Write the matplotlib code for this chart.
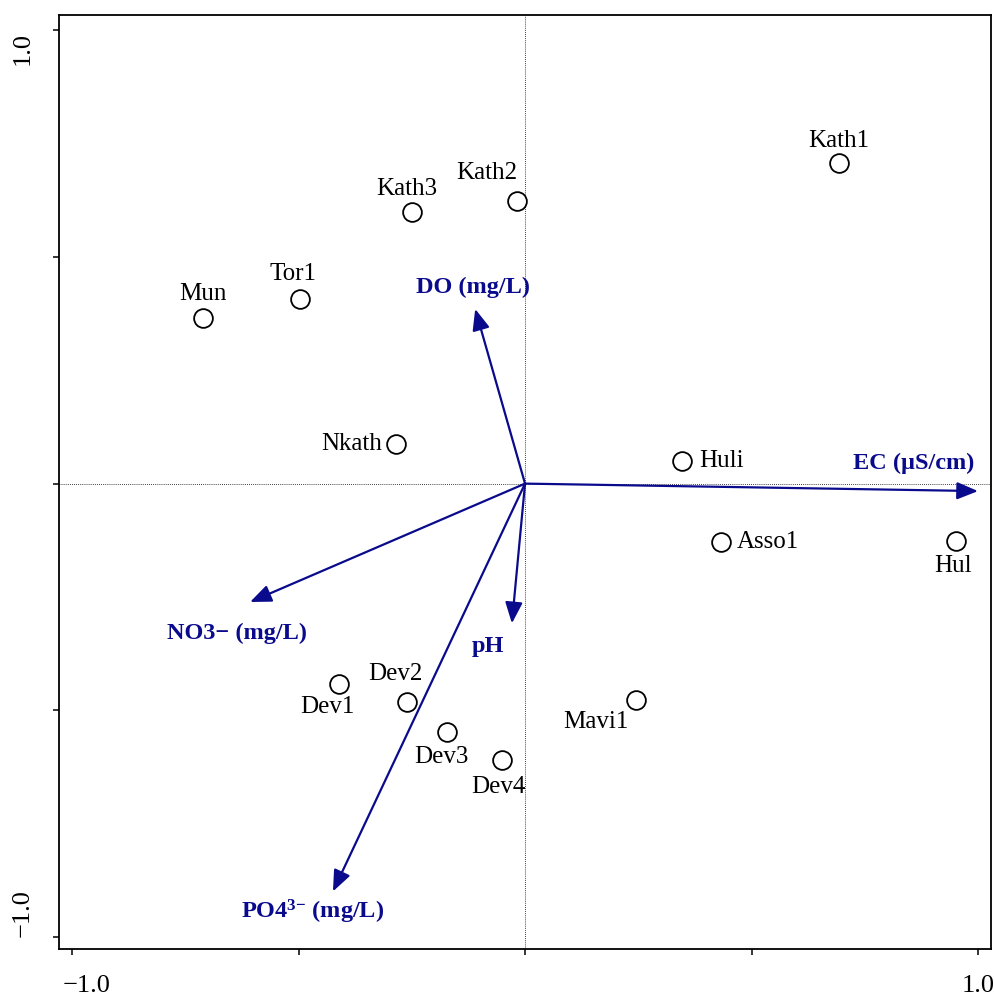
import matplotlib.pyplot as plt
from matplotlib.transforms import ScaledTranslation

plt.rcParams["font.family"] = ["Liberation Serif", "DejaVu Serif"]
plt.rcParams["mathtext.fontset"] = "custom"
plt.rcParams["mathtext.rm"] = "Liberation Serif"
plt.rcParams["mathtext.bf"] = "Liberation Serif:bold"
plt.rcParams["mathtext.it"] = "Liberation Serif:italic"

# sites (RDA scores)
sites = ["Kath1", "Kath2", "Kath3", "Tor1", "Mun", "Nkath", "Huli", "Asso1",
         "Hul", "Mavi1", "Dev1", "Dev2", "Dev3", "Dev4"]
site_x = [0.693, -0.018, -0.249, -0.497, -0.711, -0.285, 0.347, 0.433,
          0.951, 0.245, -0.411, -0.260, -0.172, -0.051]
site_y = [0.707, 0.623, 0.599, 0.407, 0.365, 0.087, 0.050, -0.129,
          -0.127, -0.477, -0.442, -0.482, -0.548, -0.610]

# environmental vectors
env = ["EC (µS/cm)", "DO (mg/L)", "NO3− (mg/L)",
       r"PO4$^{\mathbf{3{-}}}$ (mg/L)", "pH"]
env_x = [1.0, -0.110, -0.607, -0.424, -0.029]
env_y = [-0.0165, 0.385, -0.261, -0.899, -0.308]

# label placement (pixel offsets from point, alignment)
site_off = {
    "Kath1": (0, 22, "center"), "Kath2": (-30, 28, "center"),
    "Kath3": (-5, 23, "center"), "Tor1": (-7, 25, "center"),
    "Mun": (0, 24, "center"), "Nkath": (-14, 0, "right"),
    "Huli": (17, 0, "left"), "Asso1": (16, 0, "left"),
    "Hul": (-3, -25, "center"), "Mavi1": (-40, -22, "center"),
    "Dev1": (-11, -23, "center"), "Dev2": (-12, 28, "center"),
    "Dev3": (-6, -25, "center"), "Dev4": (-4, -27, "center"),
}
env_lab = [(0.857, 0.045), (-0.115, 0.433), (-0.636, -0.330),
           (-0.468, -0.945), (-0.082, -0.358)]

blue = "#0a0a8c"

fig = plt.figure(figsize=(9.94, 9.99), dpi=100)
ax = fig.add_axes([0.0594, 0.05, 0.9376, 0.935])

ax.axhline(0, color="black", lw=0.6, ls=(0, (1, 1.5)), zorder=1)
ax.axvline(0, color="black", lw=0.6, ls=(0, (1, 1.5)), zorder=1)

for ex, ey in zip(env_x, env_y):
    ax.annotate("", xy=(ex, ey), xytext=(0, 0),
                arrowprops=dict(arrowstyle="-|>,head_length=0.8,head_width=0.33",
                                mutation_scale=16, color=blue, lw=1.6,
                                shrinkA=0, shrinkB=0), zorder=2)
for name, (lx, ly) in zip(env, env_lab):
    ax.text(lx, ly, name, color=blue, fontsize=17.5, fontweight="bold",
            ha="center", va="center")

ax.plot(site_x, site_y, "o", ms=13.5, mfc="white", mec="black", mew=1.3,
        zorder=3)
for name, sx, sy in zip(sites, site_x, site_y):
    dx, dy, ha = site_off[name]
    ax.annotate(name, (sx, sy), xytext=(dx * 0.72, dy * 0.72),
                textcoords="offset points", ha=ha, va="center",
                fontsize=18)

ax.set_xlim(-1.0287, 1.0287)
ax.set_ylim(-1.026, 1.033)
ticks = [-1.0, -0.5, 0.0, 0.5, 1.0]
labels = ["−1.0", "", "", "", "1.0"]
ax.set_xticks(ticks, labels)
ax.set_yticks(ticks, labels)
for lab in ax.get_yticklabels():
    lab.set_rotation(90)
    lab.set_va("center")
ax.tick_params(axis="both", direction="out", length=4, width=1.1,
               labelsize=19)
ax.tick_params(axis="x", pad=15)
ax.tick_params(axis="y", pad=14)

# nudge end labels inward like the original
xl = ax.get_xticklabels()
xl[0].set_transform(xl[0].get_transform() + ScaledTranslation(0.15, 0, fig.dpi_scale_trans))
yl = ax.get_yticklabels()
yl[0].set_transform(yl[0].get_transform() + ScaledTranslation(0, 0.24, fig.dpi_scale_trans))
yl[-1].set_transform(yl[-1].get_transform() + ScaledTranslation(0, -0.19, fig.dpi_scale_trans))

for s in ax.spines.values():
    s.set_linewidth(1.3)

fig.savefig("out.png", dpi=100)
